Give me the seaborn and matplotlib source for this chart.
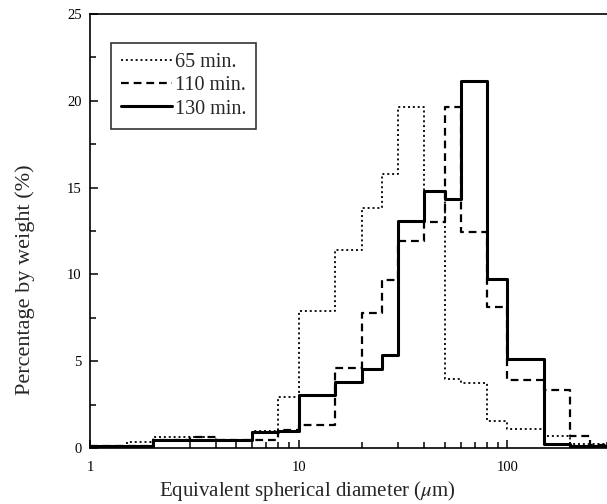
import numpy as np
import pandas as pd
import seaborn as sns
import matplotlib
matplotlib.use("Agg")
import matplotlib.pyplot as plt
from matplotlib.ticker import FixedLocator, LogLocator, NullFormatter, MultipleLocator

# Size-class boundaries (equivalent spherical diameter, µm)
bin_edges = [1, 1.5, 2, 3, 4, 6, 8, 10, 15, 20, 25, 30, 40, 50, 60, 80, 100, 150, 200, 250, 300]

# Percentage by weight in each size class
pct_65 = [0.1, 0.35, 0.65, 0.65, 0.45, 1.0, 2.95, 7.9, 11.4, 13.8, 15.8, 19.65,
          14.8, 3.95, 3.75, 1.55, 1.1, 0.7, 0.25, 0.25]
pct_110 = [0.1, 0.1, 0.45, 0.65, 0.45, 0.45, 1.05, 1.35, 4.6, 7.8, 9.7, 11.9,
           13.0, 19.65, 12.45, 8.15, 3.9, 3.35, 0.7, 0.2]
pct_130 = [0.1, 0.1, 0.45, 0.45, 0.45, 0.9, 1.0, 3.05, 3.8, 4.55, 5.35, 13.05,
           14.8, 14.35, 21.15, 9.75, 5.1, 0.25, 0.1, 0.1]

series_labels = ["65 min.", "110 min.", "130 min."]
series_values = [pct_65, pct_110, pct_130]
line_styles = [(0, (1.1, 1.6)), (0, (3.5, 2.2)), "-"]
line_widths = [1.3, 1.6, 2.2]

sns.set_theme(style="ticks")
plt.rcParams["font.family"] = ["Liberation Serif", "DejaVu Serif"]
plt.rcParams["mathtext.fontset"] = "stix"

fig = plt.figure(figsize=(6.07, 5.04), dpi=100)
ax = fig.add_axes([0.1483, 0.1111, 0.8517, 0.8611])

for label, vals, ls, lw in zip(series_labels, series_values, line_styles, line_widths):
    df = pd.DataFrame({"diameter": bin_edges, "pct": list(vals) + [vals[-1]]})
    sns.lineplot(data=df, x="diameter", y="pct", ax=ax, color="black",
                 drawstyle="steps-post", linestyle=ls, linewidth=lw,
                 label=label, estimator=None)

ax.set_xscale("log")
ax.set_xlim(1, 300)
ax.set_ylim(0, 25)

ax.xaxis.set_major_locator(FixedLocator([1, 10, 100]))
ax.set_xticklabels(["1", "10", "100"])
ax.xaxis.set_minor_locator(LogLocator(base=10, subs=np.arange(2, 10)))
ax.xaxis.set_minor_formatter(NullFormatter())
ax.yaxis.set_major_locator(MultipleLocator(5))
ax.yaxis.set_minor_locator(MultipleLocator(2.5))

ax.tick_params(which="both", direction="in", colors="black", labelsize=10.5, width=1.1)
ax.tick_params(which="major", length=6)
ax.tick_params(which="minor", length=4)
ax.tick_params(axis="y", which="both", left=True, right=False, pad=6)
ax.tick_params(axis="x", which="both", bottom=True, top=False, pad=9)

for side in ["left", "bottom", "top"]:
    ax.spines[side].set_color("black")
    ax.spines[side].set_linewidth(1.2)
ax.spines["right"].set_visible(False)

ax.set_xlabel("Equivalent spherical diameter ($\\mu$m)", fontsize=15)
ax.set_ylabel("Percentage by weight (%)", fontsize=16)
ax.xaxis.set_label_coords(0.42, -0.072)
ax.yaxis.set_label_coords(-0.107, 0.387)

leg = ax.legend(loc="upper left", bbox_to_anchor=(0.04, 0.933), borderaxespad=0,
                frameon=True, fancybox=False, fontsize=14.5, handlelength=2.55,
                handletextpad=0.12, labelspacing=0.2, borderpad=0.5)
leg.get_frame().set_edgecolor("black")
leg.get_frame().set_linewidth(1.2)

fig.savefig("out.png", dpi=100)
